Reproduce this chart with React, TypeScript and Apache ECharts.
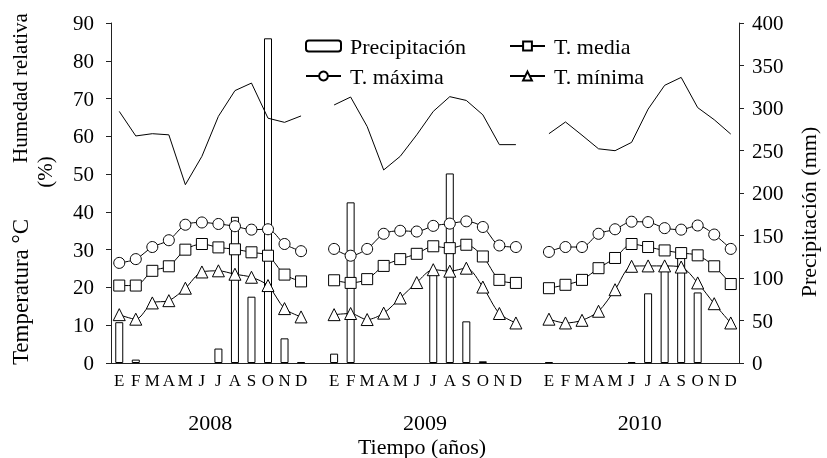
import React, { useEffect, useRef } from "react";
import * as echarts from "echarts";

const months = ["E", "F", "M", "A", "M", "J", "J", "A", "S", "O", "N", "D"];
const years = ["2008", "2009", "2010"];
const leftTicks = [0, 90, 10];
const rightTicks = [0, 400, 50];

const precip2008 = [48, 4, 0, 0, 0, 0, 17, 172, 78, 382, 29, 1];
const precip2009 = [11, 189, 0, 0, 0, 0, 108, 223, 49, 2, 0, 0];
const precip2010 = [1, 0, 0, 0, 0, 1, 82, 115, 135, 83, 0, 0];

const tmax2008 = [26.5, 27.5, 30.7, 32.5, 36.6, 37.2, 36.8, 36.2, 35.3, 35.4, 31.5, 29.6];
const tmax2009 = [30.2, 28.4, 30.2, 34.2, 35.0, 34.8, 36.3, 36.9, 37.5, 36.0, 31.1, 30.7];
const tmax2010 = [29.4, 30.7, 30.7, 34.2, 35.4, 37.4, 37.3, 35.7, 35.3, 36.4, 34.0, 30.2];

const tmed2008 = [20.5, 20.5, 24.4, 25.6, 30.0, 31.5, 30.6, 30.1, 29.3, 28.4, 23.4, 21.6];
const tmed2009 = [21.9, 21.2, 22.2, 25.7, 27.5, 28.9, 30.9, 30.4, 31.3, 28.2, 22.0, 21.2];
const tmed2010 = [19.8, 20.7, 22.0, 25.1, 27.8, 31.5, 30.7, 29.8, 29.1, 28.5, 25.6, 20.9];

const tmin2008 = [12.8, 11.6, 15.9, 16.5, 19.8, 24.1, 24.4, 23.5, 22.7, 20.5, 14.4, 12.2];
const tmin2009 = [12.8, 13.1, 11.5, 13.2, 17.2, 21.3, 24.7, 24.3, 25.1, 20.1, 13.1, 10.6];
const tmin2010 = [11.6, 10.6, 11.3, 13.7, 19.4, 25.6, 25.7, 25.7, 25.4, 21.2, 15.7, 10.6];

const hum2008 = [66.6, 60.1, 60.7, 60.4, 47.2, 54.7, 65.3, 72.1, 74.1, 64.8, 63.7, 65.4];
const hum2009 = [68.3, 70.4, 62.6, 51.1, 54.7, 60.4, 66.6, 70.5, 69.5, 65.7, 57.8, 57.8];
const hum2010 = [60.7, 63.8, 60.3, 56.7, 56.2, 58.4, 67.2, 73.5, 75.6, 67.6, 64.4, 60.6];

const join = (a: (number | null)[], b: (number | null)[], c: (number | null)[]) => [
  ...a,
  null,
  ...b,
  null,
  ...c,
];

const FONT = "'Liberation Serif', 'Times New Roman', serif";

export default function App() {
  const ref = useRef<HTMLDivElement>(null);
  useEffect(() => {
    if (!ref.current) return;
    const chart = echarts.init(ref.current, null, { renderer: "svg" });
    const categories = [...months, "", ...months, "", ...months];
    const axisLineStyle = { color: "#222", width: 1 };
    const markerStyle = { color: "#fff", borderColor: "#000", borderWidth: 1 };
    const lineStyle = { color: "#000", width: 1 };
    const legendBase = {
      padding: 0,
      itemWidth: 35,
      itemHeight: 11,
      textStyle: { fontFamily: FONT, fontSize: 22, color: "#000", padding: [0, 0, 0, 4] },
    };
    // zero precipitation months show no bar at all
    const precip = join(precip2008, precip2009, precip2010).map((v) => (v === 0 ? null : v));
    chart.setOption({
      animation: false,
      textStyle: { fontFamily: FONT },
      grid: { left: 111, right: 88, top: 23, bottom: 95, containLabel: false },
      legend: [
        { ...legendBase, data: ["Precipitación"], left: 305, top: 35 },
        { ...legendBase, data: ["T. media"], left: 509, top: 35 },
        { ...legendBase, data: ["T. máxima"], left: 305, top: 65 },
        { ...legendBase, data: ["T. mínima"], left: 509, top: 65 },
      ],
      xAxis: [
        {
          type: "category",
          data: categories,
          boundaryGap: true,
          axisLine: { lineStyle: axisLineStyle },
          axisTick: { interval: 0, length: 5, inside: false, lineStyle: axisLineStyle },
          axisLabel: { interval: 0, fontSize: 17, color: "#000", margin: 9, fontFamily: FONT },
        },
        {
          type: "category",
          data: categories,
          position: "top",
          axisLine: { lineStyle: axisLineStyle },
          axisTick: { show: false },
          axisLabel: { show: false },
        },
      ],
      yAxis: [
        {
          type: "value",
          min: leftTicks[0],
          max: leftTicks[1],
          interval: leftTicks[2],
          axisLine: { show: true, lineStyle: axisLineStyle },
          axisTick: { show: true, length: 5, lineStyle: axisLineStyle },
          axisLabel: { fontSize: 21, color: "#000", margin: 17, fontFamily: FONT },
          splitLine: { show: false },
        },
        {
          type: "value",
          min: rightTicks[0],
          max: rightTicks[1],
          interval: rightTicks[2],
          position: "right",
          axisLine: { show: true, lineStyle: axisLineStyle },
          axisTick: { show: true, length: 5, lineStyle: axisLineStyle },
          axisLabel: { fontSize: 21, color: "#000", margin: 13, fontFamily: FONT },
          splitLine: { show: false },
        },
      ],
      series: [
        {
          name: "Precipitación",
          type: "bar",
          yAxisIndex: 1,
          barWidth: 8,
          data: precip,
          itemStyle: { color: "#fff", borderColor: "#000", borderWidth: 1 },
          z: 1,
        },
        {
          name: "Humedad relativa",
          type: "line",
          data: join(hum2008, hum2009, hum2010),
          symbol: "none",
          connectNulls: false,
          lineStyle,
          itemStyle: { color: "#000" },
          z: 2,
        },
        {
          name: "T. máxima",
          type: "line",
          data: join(tmax2008, tmax2009, tmax2010),
          symbol: "circle",
          symbolSize: 11,
          smooth: 0.3,
          connectNulls: false,
          lineStyle,
          itemStyle: markerStyle,
          z: 3,
        },
        {
          name: "T. media",
          type: "line",
          data: join(tmed2008, tmed2009, tmed2010),
          symbol: "rect",
          symbolSize: 11,
          smooth: 0.3,
          connectNulls: false,
          lineStyle,
          itemStyle: markerStyle,
          z: 3,
        },
        {
          name: "T. mínima",
          type: "line",
          data: join(tmin2008, tmin2009, tmin2010),
          symbol: "triangle",
          symbolSize: 12,
          smooth: 0.3,
          connectNulls: false,
          lineStyle,
          itemStyle: markerStyle,
          z: 3,
        },
      ],
    });

    const txt = (text: string, x: number, y: number, size: number, rot = 0) => ({
      type: "text",
      x,
      y,
      rotation: rot,
      style: { text, fontFamily: FONT, fontSize: size, fill: "#000", align: "center", verticalAlign: "middle" },
    });

    // Year labels centred under each year's 12 months, computed from the axis
    const yearTexts = years.map((y, i) => {
      const start = i * 13;
      const a = chart.convertToPixel({ xAxisIndex: 0 }, start + 5) as number;
      const b = chart.convertToPixel({ xAxisIndex: 0 }, start + 6) as number;
      return txt(y, (a + b) / 2, 422, 22);
    });
    chart.setOption({
      graphic: [
        ...yearTexts,
        txt("Tiempo (años)", 422, 446, 22),
        txt("Humedad relativa", 20, 88, 21, Math.PI / 2),
        txt("(%)", 45, 172, 21, Math.PI / 2),
        txt("Temperatura °C", 20, 292, 23, Math.PI / 2),
        txt("Precipitación (mm)", 808, 212, 22, Math.PI / 2),
      ],
    });
    return () => chart.dispose();
  }, []);
  return (
    <div style={{ position: "fixed", left: 0, top: 0 }}>
      <div ref={ref} style={{ width: 827, height: 458 }} />
    </div>
  );
}
